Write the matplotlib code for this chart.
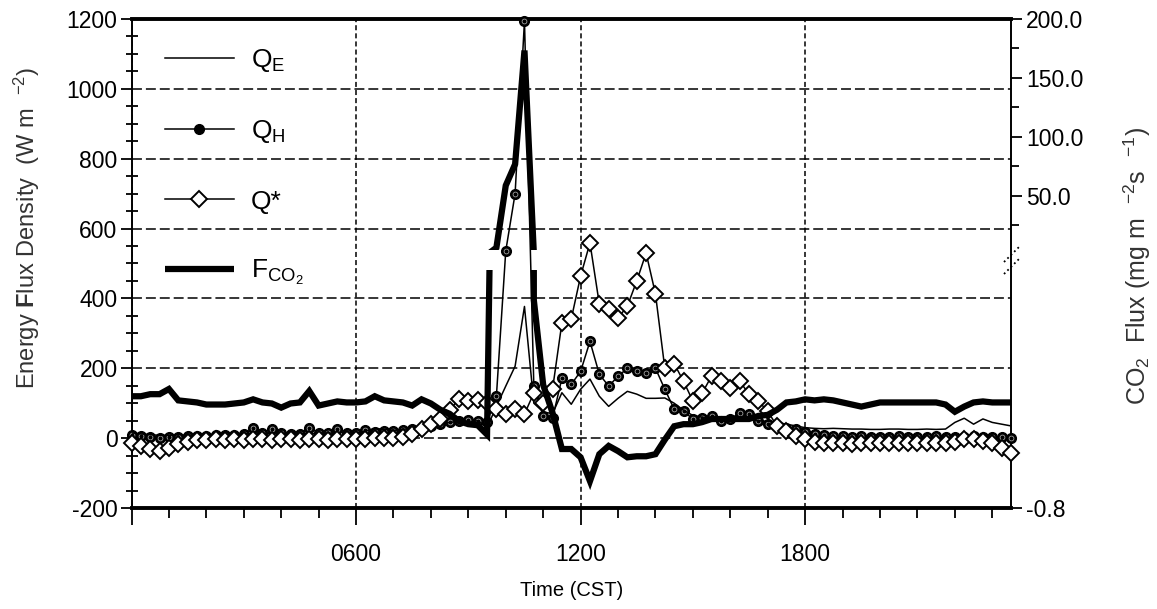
import numpy as np
import matplotlib
matplotlib.use('Agg')
import matplotlib.pyplot as plt
from matplotlib.ticker import MultipleLocator, FixedLocator, FormatStrFormatter

plt.rcParams['font.family'] = ['Liberation Sans', 'DejaVu Sans']
plt.rcParams['mathtext.fontset'] = 'custom'
plt.rcParams['mathtext.rm'] = 'Liberation Sans'
plt.rcParams['mathtext.it'] = 'Liberation Sans'
plt.rcParams['mathtext.bf'] = 'Liberation Sans:bold'
plt.rcParams['mathtext.default'] = 'regular'
plt.rcParams['axes.unicode_minus'] = False

# 15 minute averages, time in hours CST (0000 .. 2330)
time_hr = np.arange(95) * 0.25

# net radiation Q* (W m-2)
q_star = [-14, -23, -31, -37, -29, -17, -11, -6,
          -4, -3, -5, -2, -4, -3, -2, -4,
          -3, -2, -4, -3, -2, -4, -3, -2,
          -3, -2, -1, -1,
          0, 3, 11, 26, 40, 54, 80, 112,
          106, 108, 100, 83, 69, 83, 69, 129,
          100, 140, 330, 341, 464, 559, 384, 370,
          344, 378, 450, 530, 413, 200, 213, 163,
          106, 129, 178, 163, 143, 163, 126, 106,
          77, 34, 20, 6, -3, -10, -14, -15,
          -15, -16, -15, -15, -14, -15, -15, -15,
          -14, -15, -15, -14,
          -10, -2, -2, -8, -14, -28, -42]

# sensible heat flux Q_H (W m-2)
q_h = [10, 5, 2, 0, 2, 4, 5, 6,
       6, 8, 8, 10, 12, 28, 15, 27,
       14, 12, 13, 30, 15, 14, 27, 16,
       16, 24, 18, 20,
       20, 22, 25, 30, 35, 40, 45, 50,
       52, 48, 45, 120, 536, 700, 1195, 150,
       63, 57, 171, 154, 191, 277, 183, 149,
       177, 200, 191, 186, 200, 140, 83, 77,
       55, 58, 63, 49, 55, 72, 69, 49,
       40, 34, 30, 25, 18, 12, 8, 6,
       5, 4, 5, 4, 3, 4, 5, 4,
       3, 4, 5, 4,
       3, 4, 5, 4, 3, 2, 0]

# latent heat flux Q_E (W m-2)
q_e = [15, 12, 10, 8, 8, 10, 8, 10,
       10, 12, 10, 12, 14, 12, 12, 14,
       12, 15, 14, 12, 15, 14, 15, 18,
       15, 20, 28, 25,
       22, 25, 28, 30, 35, 40, 45, 48,
       45, 50, 30, 91, 149, 206, 377, 100,
       75, 70, 130, 97, 140, 169, 120, 91,
       114, 134, 126, 114, 114, 115, 100, 80,
       65, 60, 55, 50, 48, 50, 52, 50,
       48, 45, 40, 35, 30, 28, 27, 28,
       27, 26, 26, 25, 25, 26, 26, 25,
       25, 26, 25, 26,
       45, 57, 40, 55, 45, 40, 35]

# CO2 flux (mg m-2 s-1), plotted on the broken right axis
f_co2 = [0.28, 0.28, 0.30, 0.30, 0.35, 0.24, 0.23, 0.22,
         0.20, 0.20, 0.20, 0.21, 0.22, 0.25, 0.22, 0.21,
         0.17, 0.21, 0.22, 0.33, 0.19, 0.21, 0.23, 0.22,
         0.22, 0.23, 0.28, 0.24,
         0.23, 0.22, 0.19, 0.25, 0.21, 0.15, 0.11, 0.04,
         0.01, 0.00, -0.09, 6.0, 58.7, 76.8, 173.3, 1.21,
         0.39, 0.12, -0.23, -0.23, -0.31, -0.54, -0.28, -0.20,
         -0.25, -0.31, -0.30, -0.30, -0.28, -0.14, -0.01, 0.01,
         0.01, 0.03, 0.06, 0.06, 0.06, 0.06, 0.06, 0.09,
         0.10, 0.15, 0.22, 0.23, 0.25, 0.24, 0.25, 0.24,
         0.22, 0.20, 0.18, 0.20, 0.22, 0.22, 0.22, 0.22,
         0.22, 0.22, 0.22, 0.20,
         0.13, 0.18, 0.22, 0.23, 0.22, 0.22, 0.22]

x_ticks = [0, 6, 12, 18]
x_ticklabels = ['', '0600', '1200', '1800']
co2_hi_ticks = [50, 100, 150, 200]
co2_hi_minor = [25, 75, 125, 175]
co2_lo_ticks = [-0.8]

W, H = 1157, 609
fig = plt.figure(figsize=(W / 100, H / 100), dpi=100)

LEFT, RIGHT = 131.5, 1011.0


def box(top_px, bot_px):
    return [LEFT / W, 1 - bot_px / H, (RIGHT - LEFT) / W, (bot_px - top_px) / H]


ax = fig.add_axes(box(19, 508))
ax_lo = fig.add_axes(box(270, 508))   # lower piece of the broken CO2 axis
ax_hi = fig.add_axes(box(19, 250))    # upper piece

# energy fluxes
l_qh, = ax.plot(time_hr, q_h, color='k', lw=1.1, marker='o', ms=7, mfc='k', mec='k',
                clip_on=False, zorder=3)
ax.plot(time_hr, q_h, ls='none', marker='o', ms=3.5, mfc='none', mec='#bbbbbb', mew=0.5,
        clip_on=False, zorder=3.1)
l_qe, = ax.plot(time_hr, q_e, color='k', lw=1.1, zorder=3.5)
l_qs, = ax.plot(time_hr, q_star, color='k', lw=1.1, marker='D', ms=8.5, mfc='white', mec='k',
                mew=1.4, clip_on=False, zorder=5)

ax.set_xlim(0, 23.5)
ax.set_ylim(-200, 1200)
ax.set_xticks(x_ticks)
ax.set_xticklabels(x_ticklabels)
ax.xaxis.set_minor_locator(MultipleLocator(1))
ax.yaxis.set_major_locator(MultipleLocator(200))
ax.yaxis.set_minor_locator(MultipleLocator(50))
ax.xaxis.set_ticks_position('bottom')
ax.yaxis.set_ticks_position('left')
ax.tick_params(axis='x', which='major', direction='out', length=12, width=1.3, pad=13, labelsize=16.5)
ax.tick_params(axis='x', which='minor', direction='out', length=7, width=1.3)
ax.tick_params(axis='y', which='major', direction='out', length=8, width=1.3, pad=2, labelsize=16.5)
ax.tick_params(axis='y', which='minor', direction='inout', length=9, width=1.3)

ax.grid(axis='y', color='k', lw=1.1, linestyle=(0, (6.5, 2.6)))
ax.grid(axis='x', color='k', lw=1.1, linestyle=(0, (3.3, 2.0)))

for side in ['top', 'bottom']:
    ax.spines[side].set_linewidth(2.8)
for side in ['left', 'right']:
    ax.spines[side].set_linewidth(1.4)

# CO2 flux on the two pieces of the broken axis
for a, lim in [(ax_lo, (-0.8, 1.5)), (ax_hi, (4, 200))]:
    a.patch.set_visible(False)
    for s in a.spines.values():
        s.set_visible(False)
    a.xaxis.set_visible(False)
    a.set_xlim(0, 23.5)
    a.set_ylim(*lim)
    a.yaxis.set_ticks_position('right')
    a.yaxis.set_major_formatter(FormatStrFormatter('%.1f'))
    a.tick_params(axis='y', which='major', direction='out', length=8, width=1.3, pad=3, labelsize=16.5)
    a.tick_params(axis='y', which='minor', direction='out', length=6, width=1.3)

l_co2, = ax_lo.plot(time_hr, f_co2, color='k', lw=4.5, solid_joinstyle='miter', solid_capstyle='butt')
ax_hi.plot(time_hr, f_co2, color='k', lw=4.5, solid_joinstyle='miter', solid_capstyle='butt')
ax_lo.yaxis.set_major_locator(FixedLocator(co2_lo_ticks))
ax_hi.yaxis.set_major_locator(FixedLocator(co2_hi_ticks))
ax_hi.yaxis.set_minor_locator(FixedLocator(co2_hi_minor))


# break marks on the right spine
def px_axes(px, py):
    return (px - LEFT) / (RIGHT - LEFT), (508 - py) / (508 - 19)


for y0 in [262, 274]:
    (xa, ya), (xb, yb) = px_axes(1004, y0), px_axes(1019, y0 - 15)
    ax.plot([xa, xb], [ya, yb], transform=ax.transAxes, color='k', lw=1.3, ls=':', clip_on=False)

leg = ax.legend([l_qe, l_qh, l_qs, l_co2],
                ['Q$_E$', 'Q$_H$', 'Q*', 'F$_{CO_2}$'],
                loc='upper left', bbox_to_anchor=px_axes(165, 47), frameon=False,
                fontsize=19, handlelength=2.6, handletextpad=0.65, labelspacing=1.68,
                borderpad=0, borderaxespad=0, numpoints=1)

label_color = '#333333'
ax.set_xlabel('Time (CST)', fontsize=14.5, va='center', color='k')
ax.xaxis.set_label_coords(0.5, px_axes(0, 590)[1])
ax.set_ylabel(r'Energy $\mathbf{F}$lux Density  (W m  $^{-2}$)', fontsize=17, va='center',
              color=label_color)
ax.yaxis.set_label_coords(px_axes(27, 0)[0], px_axes(0, 228)[1])
fig.text(1137 / W, 1 - 266 / H, r'CO$_2$  Flux (mg m  $^{-2}$s  $^{-1}$)', rotation=90,
         ha='center', va='center', fontsize=18, color=label_color)

fig.savefig('out.png', dpi=100)
